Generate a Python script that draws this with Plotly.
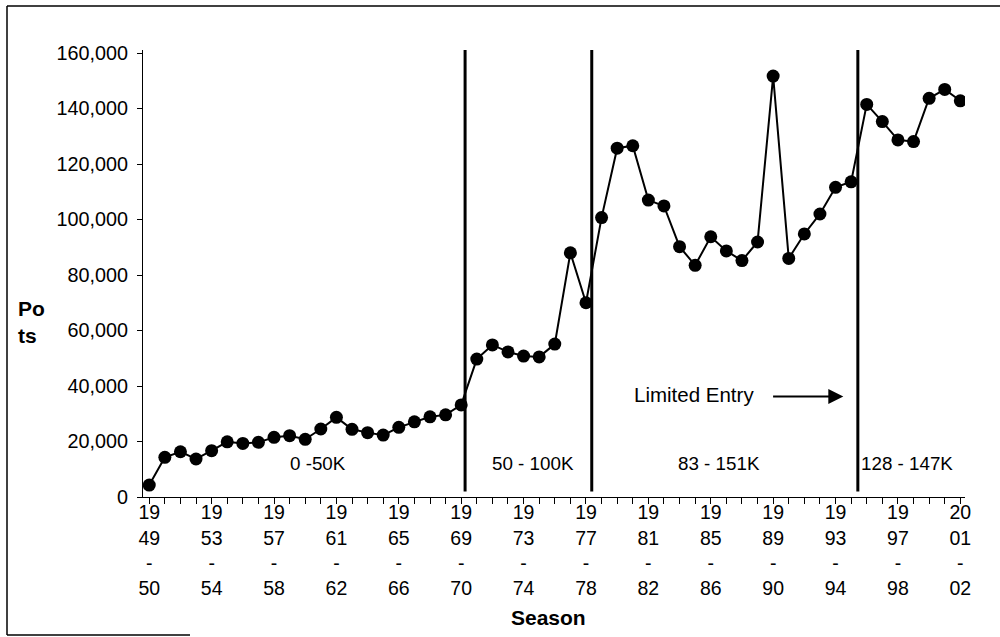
import plotly.graph_objects as go

W, H = 1000, 637
M_L, M_R, M_T, M_B = 143, 35, 50, 140
FONT = "Liberation Sans, Arial, sans-serif"

# season start years (1949 = 1949-50 season)
seasons = list(range(1949, 2002))
pots = [
    4300, 14300, 16300, 13700, 16700, 19900, 19300, 19700, 21500, 22100,
    20800, 24500, 28700, 24400, 23200, 22300, 25100, 27100, 28900, 29600,
    33200, 49700, 54800, 52300, 50800, 50500, 55100, 88000, 70000, 100700,
    125700, 126600, 107000, 104900, 90200, 83500, 93800, 88700, 85200, 91900,
    151700, 86000, 94800, 102000, 111600, 113600, 141500, 135300, 128700, 128100,
    143700, 146900, 142800,
]

label_years = list(range(1949, 2002, 4))
y_ticks = [0, 20000, 40000, 60000, 80000, 100000, 120000, 140000, 160000]

# period dividers and their labels
dividers = [1969.25, 1977.37, 1994.43]
period_labels = ["0 -50K", "50 - 100K", "83 - 151K", "128 - 147K"]
period_x = [1959.8, 1973.6, 1985.5, 1997.6]


def season_text(y):
    a = str(y)
    b = str(y + 1)
    return f"{a[:2]}<br>{a[2:]}<br>-<br>{b[2:]}"


def px_x(p):
    return (p - M_L) / (W - M_L - M_R)


def px_y(p):
    return (H - M_B - p) / (H - M_T - M_B)


fig = go.Figure()
fig.add_trace(go.Scatter(
    x=seasons, y=pots, mode="lines+markers",
    line=dict(color="black", width=2),
    marker=dict(color="black", size=13),
    showlegend=False,
))

shapes = []
for d in dividers:
    shapes.append(dict(type="line", xref="x", yref="y", x0=d, x1=d, y0=2000, y1=161100,
                       line=dict(color="black", width=3)))

# scanned page border
shapes += [
    dict(type="line", xref="paper", yref="paper", x0=px_x(7), x1=px_x(1000), y0=px_y(6), y1=px_y(6),
         line=dict(color="black", width=1.5)),
    dict(type="line", xref="paper", yref="paper", x0=px_x(7), x1=px_x(7), y0=px_y(6), y1=px_y(635),
         line=dict(color="black", width=1.5)),
    dict(type="line", xref="paper", yref="paper", x0=px_x(7), x1=px_x(190), y0=px_y(635), y1=px_y(635),
         line=dict(color="black", width=1.5)),
]

annotations = []
for t, x in zip(period_labels, period_x):
    annotations.append(dict(x=x, y=12000, xref="x", yref="y", text=t, showarrow=False,
                            font=dict(family=FONT, size=18.8, color="black")))

annotations.append(dict(x=1983.9, y=36800, xref="x", yref="y", text="Limited Entry",
                        showarrow=False, font=dict(family=FONT, size=20.5, color="black")))
annotations.append(dict(x=1993.5, y=36200, ax=1988.9, ay=36200, xref="x", yref="y",
                        axref="x", ayref="y", text="", showarrow=True,
                        arrowhead=2, arrowsize=1.5, arrowwidth=2, arrowcolor="black"))

annotations.append(dict(x=px_x(16), y=px_y(322), xref="paper", yref="paper",
                        text="<b>Po<br>ts</b>", align="left", xanchor="left", yanchor="middle",
                        showarrow=False, font=dict(family=FONT, size=21, color="black")))
annotations.append(dict(x=px_x(548), y=px_y(617), xref="paper", yref="paper",
                        text="<b>Season</b>", showarrow=False, yanchor="middle",
                        font=dict(family=FONT, size=21, color="black")))

fig.update_layout(
    width=W, height=H,
    margin=dict(l=M_L, r=M_R, t=M_T, b=M_B, autoexpand=False),
    paper_bgcolor="white", plot_bgcolor="white",
    font=dict(family=FONT, color="black"),
    shapes=shapes, annotations=annotations,
    xaxis=dict(
        range=[1948.6, 2001.3], showgrid=False, zeroline=False, automargin=False,
        showline=True, linecolor="black", linewidth=1,
        tickmode="array", tickvals=seasons,
        ticktext=[season_text(y) if y in label_years else "" for y in seasons],
        ticks="outside", ticklen=6, tickcolor="black", ticklabelstandoff=-8,
        tickfont=dict(family=FONT, size=19.5, color="black"),
    ),
    yaxis=dict(
        range=[0, 161100], showgrid=False, zeroline=False, automargin=False,
        showline=True, linecolor="black", linewidth=1,
        tickmode="array", tickvals=y_ticks,
        ticktext=[f"{v:,}" for v in y_ticks],
        ticks="outside", ticklen=5, tickcolor="black", ticklabelstandoff=5,
        tickfont=dict(family=FONT, size=19.8, color="black"),
    ),
)

# the default page has an 8px body margin; drop it so the figure sits at 0,0
fig.write_html("out.html", config={"displayModeBar": False},
               post_script="document.body.style.margin='0';")
